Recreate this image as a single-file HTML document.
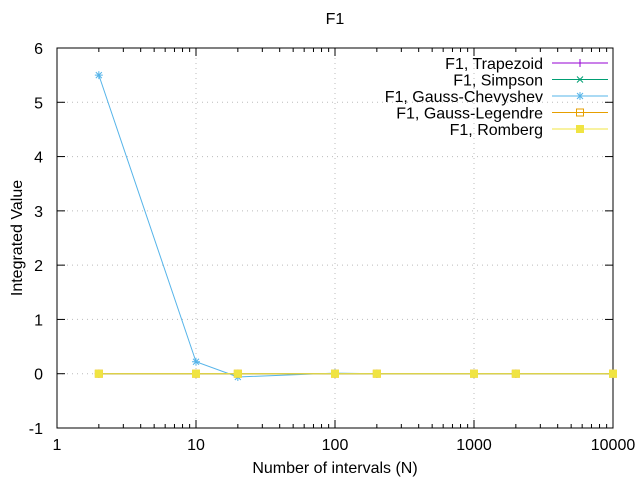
<!DOCTYPE html>
<html><head><meta charset="utf-8"><style>
body{margin:0;background:#fff;}
svg{display:block;font-family:"Liberation Sans",sans-serif;}
</style></head><body>
<svg id="chart" width="640" height="480" viewBox="0 0 640 480" xmlns="http://www.w3.org/2000/svg"></svg>
<script>
const categoriesN = [2, 10, 20, 100, 200, 1000, 2000, 10000];
const trapezoidValues = [0, 0, 0, 0, 0, 0, 0, 0];
const simpsonValues = [0, 0, 0, 0, 0, 0, 0, 0];
const chebyshevValues = [5.5, 0.22, -0.06, 0.01, 0.0, 0.0, 0.0, 0.0];
const legendreValues = [0, 0, 0, 0, 0, 0, 0, 0];
const rombergValues = [0, 0, 0, 0, 0, 0, 0, 0];
const yTicks = [-1, 0, 1, 2, 3, 4, 5, 6];
const xTicks = [1, 10, 100, 1000, 10000];

const svg = document.getElementById('chart');
const NS = 'http://www.w3.org/2000/svg';
const L = 57, R = 613, T = 48, B = 428;
const xs = v => L + (Math.log10(v) - 0) / 4 * (R - L);
const ys = v => B - (v + 1) / 7 * (B - T);
function mk(tag, attrs, parent) {
  const e = document.createElementNS(NS, tag);
  for (const k in attrs) e.setAttribute(k, attrs[k]);
  (parent || svg).appendChild(e);
  return e;
}
yTicks.forEach(v => {
  const y = ys(v);
  if (v > -1 && v < 6) {
    const g = mk('line', {x1: L, x2: R, y1: y, y2: y, stroke: '#bbb', 'stroke-dasharray': '1,4', 'stroke-width': 1});
    
    
  }
  mk('line', {x1: L, x2: L + 8, y1: y, y2: y, stroke: '#000'});
  mk('line', {x1: R, x2: R - 8, y1: y, y2: y, stroke: '#000'});
  const t = mk('text', {x: L - 14, y: y + 6, 'text-anchor': 'end', 'font-size': 16});
  t.textContent = v;
  
  
});
xTicks.forEach(v => {
  const x = xs(v);
  if (v > 1 && v < 10000) {
    const g = mk('line', {x1: x, x2: x, y1: T, y2: B, stroke: '#bbb', 'stroke-dasharray': '1,4', 'stroke-width': 1});
    
    
  }
  mk('line', {x1: x, x2: x, y1: B, y2: B - 8, stroke: '#000'});
  mk('line', {x1: x, x2: x, y1: T, y2: T + 8, stroke: '#000'});
  const t = mk('text', {x: x, y: B + 22, 'text-anchor': 'middle', 'font-size': 16});
  t.textContent = v;
  
  
  if (v < 10000) for (let m = 2; m <= 9; m++) {
    const mx = xs(v * m);
    mk('line', {x1: mx, x2: mx, y1: B, y2: B - 4, stroke: '#000'});
    mk('line', {x1: mx, x2: mx, y1: T, y2: T + 4, stroke: '#000'});
  }
});
const border = mk('rect', {x: L, y: T, width: R - L, height: B - T, fill: 'none', stroke: '#000', 'stroke-width': 1});



function marker(kind, x, y, color) {
  if (kind === 'plus') {
    mk('path', {d: `M${x-4} ${y}H${x+4}M${x} ${y-4}V${y+4}`, stroke: color, fill: 'none'});
  } else if (kind === 'cross') {
    mk('path', {d: `M${x-3} ${y-3}L${x+3} ${y+3}M${x-3} ${y+3}L${x+3} ${y-3}`, stroke: color, fill: 'none'});
  } else if (kind === 'star') {
    mk('path', {d: `M${x-4} ${y}H${x+4}M${x} ${y-4}V${y+4}M${x-3} ${y-3}L${x+3} ${y+3}M${x-3} ${y+3}L${x+3} ${y-3}`, stroke: color, fill: 'none'});
  } else if (kind === 'box') {
    mk('rect', {x: x - 3.5, y: y - 3.5, width: 7, height: 7, stroke: color, fill: 'none'});
  } else {
    mk('rect', {x: x - 4, y: y - 4, width: 8, height: 8, fill: color});
  }
}
const series = [
  {name: 'F1, Trapezoid', vals: trapezoidValues, color: '#9400d3', m: 'plus'},
  {name: 'F1, Simpson', vals: simpsonValues, color: '#009e73', m: 'cross'},
  {name: 'F1, Gauss-Chevyshev', vals: chebyshevValues, color: '#56b4e9', m: 'star'},
  {name: 'F1, Gauss-Legendre', vals: legendreValues, color: '#e69f00', m: 'box'},
  {name: 'F1, Romberg', vals: rombergValues, color: '#f0e442', m: 'fill'}
];
series.forEach((s, i) => {
  const g = mk('g', {});
  
  
  const pts = categoriesN.map((n, j) => [xs(n), ys(s.vals[j])]);
  const p = mk('polyline', {points: pts.map(p => p.join(',')).join(' '), fill: 'none', stroke: s.color, 'stroke-width': 1}, g);
  
  
  pts.forEach(pt => marker(s.m, pt[0], pt[1], s.color));
  const ly = 63 + i * 16.5;
  const lt = mk('text', {x: 543, y: ly + 6, 'text-anchor': 'end', 'font-size': 16});
  lt.textContent = s.name;
  
  
  mk('line', {x1: 552, x2: 608, y1: ly, y2: ly, stroke: s.color});
  marker(s.m, 580, ly, s.color);
});
const title = mk('text', {x: 335, y: 24, 'text-anchor': 'middle', 'font-size': 16});
title.textContent = 'F1';


const xt = mk('text', {x: 335, y: 473, 'text-anchor': 'middle', 'font-size': 16});
xt.textContent = 'Number of intervals (N)';


const yt = mk('text', {x: 0, y: 0, 'text-anchor': 'middle', 'font-size': 16, transform: 'translate(22,238) rotate(-90)'});
yt.textContent = 'Integrated Value';


</script>
</body></html>
